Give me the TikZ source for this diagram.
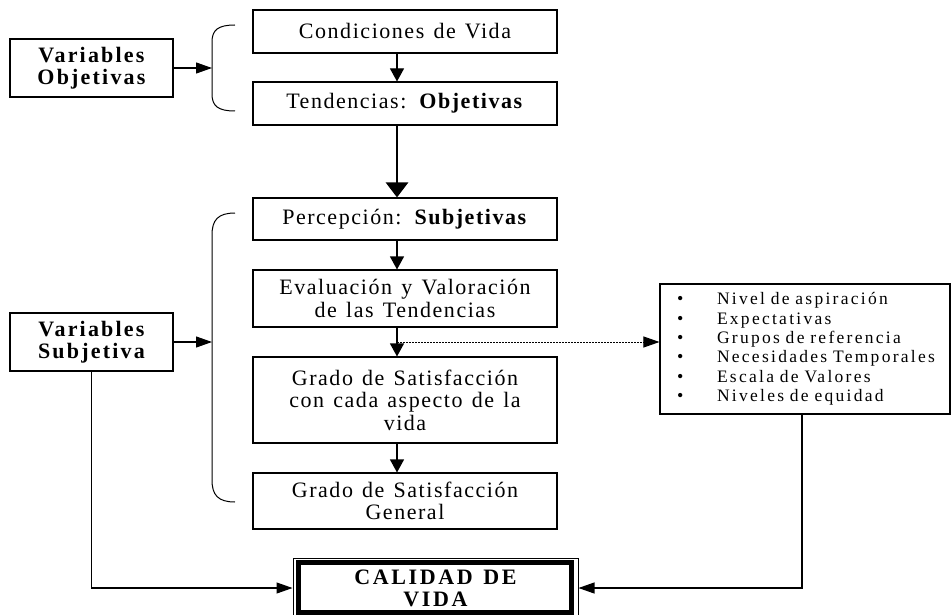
\documentclass[tikz,border=0pt]{standalone}
\usepackage{fontspec}
\setmainfont{Liberation Serif}[LetterSpace=7,WordSpace=1.3]
\newfontfamily\listfont{Liberation Serif}[LetterSpace=13,WordSpace=1.5]
\usetikzlibrary{arrows.meta,calc}
\newcommand{\lbul}{\makebox[40pt][l]{\fontsize{18}{0}\selectfont\textbullet}}
\begin{document}
\begin{tikzpicture}[x=1pt,y=-1pt,
  ln/.style={line width=1.1pt},
  box/.style={draw, ln, minimum width=304pt, inner sep=0pt, align=center, font=\fontsize{22}{22.5}\selectfont},
  varbox/.style={draw, ln, minimum width=163pt, minimum height=58pt, inner sep=0pt, align=center, font=\fontsize{22}{22}\selectfont\addfontfeatures{LetterSpace=10}\bfseries},
  listbox/.style={draw, ln, minimum width=290pt, minimum height=130pt, inner xsep=17pt, inner ysep=0pt, align=left, text width=256pt, font=\listfont\fontsize{17.5}{19.3}\selectfont},
  calbox/.style={draw, line width=1pt, minimum width=285pt, minimum height=60pt, inner sep=0pt, align=center, font=\fontsize{22}{22}\selectfont\addfontfeatures{LetterSpace=12}\bfseries},
  varr/.style={ln, -{Triangle[length=13pt,width=14pt]}},
  harr/.style={ln, -{Triangle[length=16pt,width=11pt]}},
  bigarr/.style={line width=2.8pt, -{Triangle[length=15pt,width=22pt]}},
  bracestyle/.style={line width=1pt}
]
\useasboundingbox (0,0) rectangle (952,615);
\fill[white] (0,0) rectangle (952,615);
\clip (0,0) rectangle (952,615);

\node[varbox] (vo) at (91.5,68) {Variables\\Objetivas};
\node[box, minimum height=43pt] (cv) at (405,31.5) {Condiciones de Vida};
\node[box, minimum height=43pt] (to) at (405,103.5) {Tendencias: \textbf{Objetivas}};
\node[box, minimum height=42pt] (pe) at (405,219) {Percepción: \textbf{Subjetivas}};
\node[box, minimum height=57pt] (ev) at (405,298.5) {Evaluación y Valoración\\de las Tendencias};
\node[box, minimum height=86pt] (gs) at (405,400) {Grado de Satisfacción\\con cada aspecto de la\\vida};
\node[box, minimum height=56pt] (gg) at (405,501) {Grado de Satisfacción\\General};
\node[varbox] (vs) at (91.5,342) {Variables\\Subjetiva};
\node[listbox] (ls) at (805,349) {%
\lbul Nivel de aspiración\\
\lbul Expectativas\\
\lbul Grupos de referencia\\
\lbul Necesidades Temporales\\
\lbul Escala de Valores\\
\lbul Niveles de equidad};
\node[calbox] (cal) at (435.5,588) {CALIDAD DE\\VIDA};
\draw[line width=5pt] ([xshift=6pt,yshift=-5pt]cal.north west) rectangle ([xshift=-7pt,yshift=6pt]cal.south east);

\coordinate (ax) at (397,0);
\coordinate (bt1) at (212,68);
\coordinate (bt2) at (212,342);
\coordinate (dt) at (397,342);
\coordinate (lsb) at ($(ls.south)+(-3,0)$);

% braces
\draw[bracestyle] (235,25) .. controls (218,25) and (212,30) .. (212,42) -- (bt1) -- (212,94) .. controls (212,106) and (218,111) .. (235,111);
\draw[bracestyle] (235,213) .. controls (218,213) and (212,220) .. (212,235) -- (bt2) -- (212,480) .. controls (212,495) and (218,502) .. (235,502);

% connectors
\draw[varr] (cv.south -| ax) -- (to.north -| ax);
\draw[bigarr] (to.south -| ax) -- (pe.north -| ax);
\draw[varr] (pe.south -| ax) -- (ev.north -| ax);
\draw[varr] (ev.south -| ax) -- (gs.north -| ax);
\draw[varr] (gs.south -| ax) -- (gg.north -| ax);
\draw[harr] (vo.east) -- (bt1);
\draw[harr] (vs.east) -- (bt2);
\draw[harr, line width=0.9pt, dash pattern=on 1.5pt off 1.5pt] (dt) -- (dt -| ls.west);
\draw[harr] (vs.south) |- (cal.west);
\draw[harr] (lsb) |- (cal.east);
\end{tikzpicture}
\end{document}
